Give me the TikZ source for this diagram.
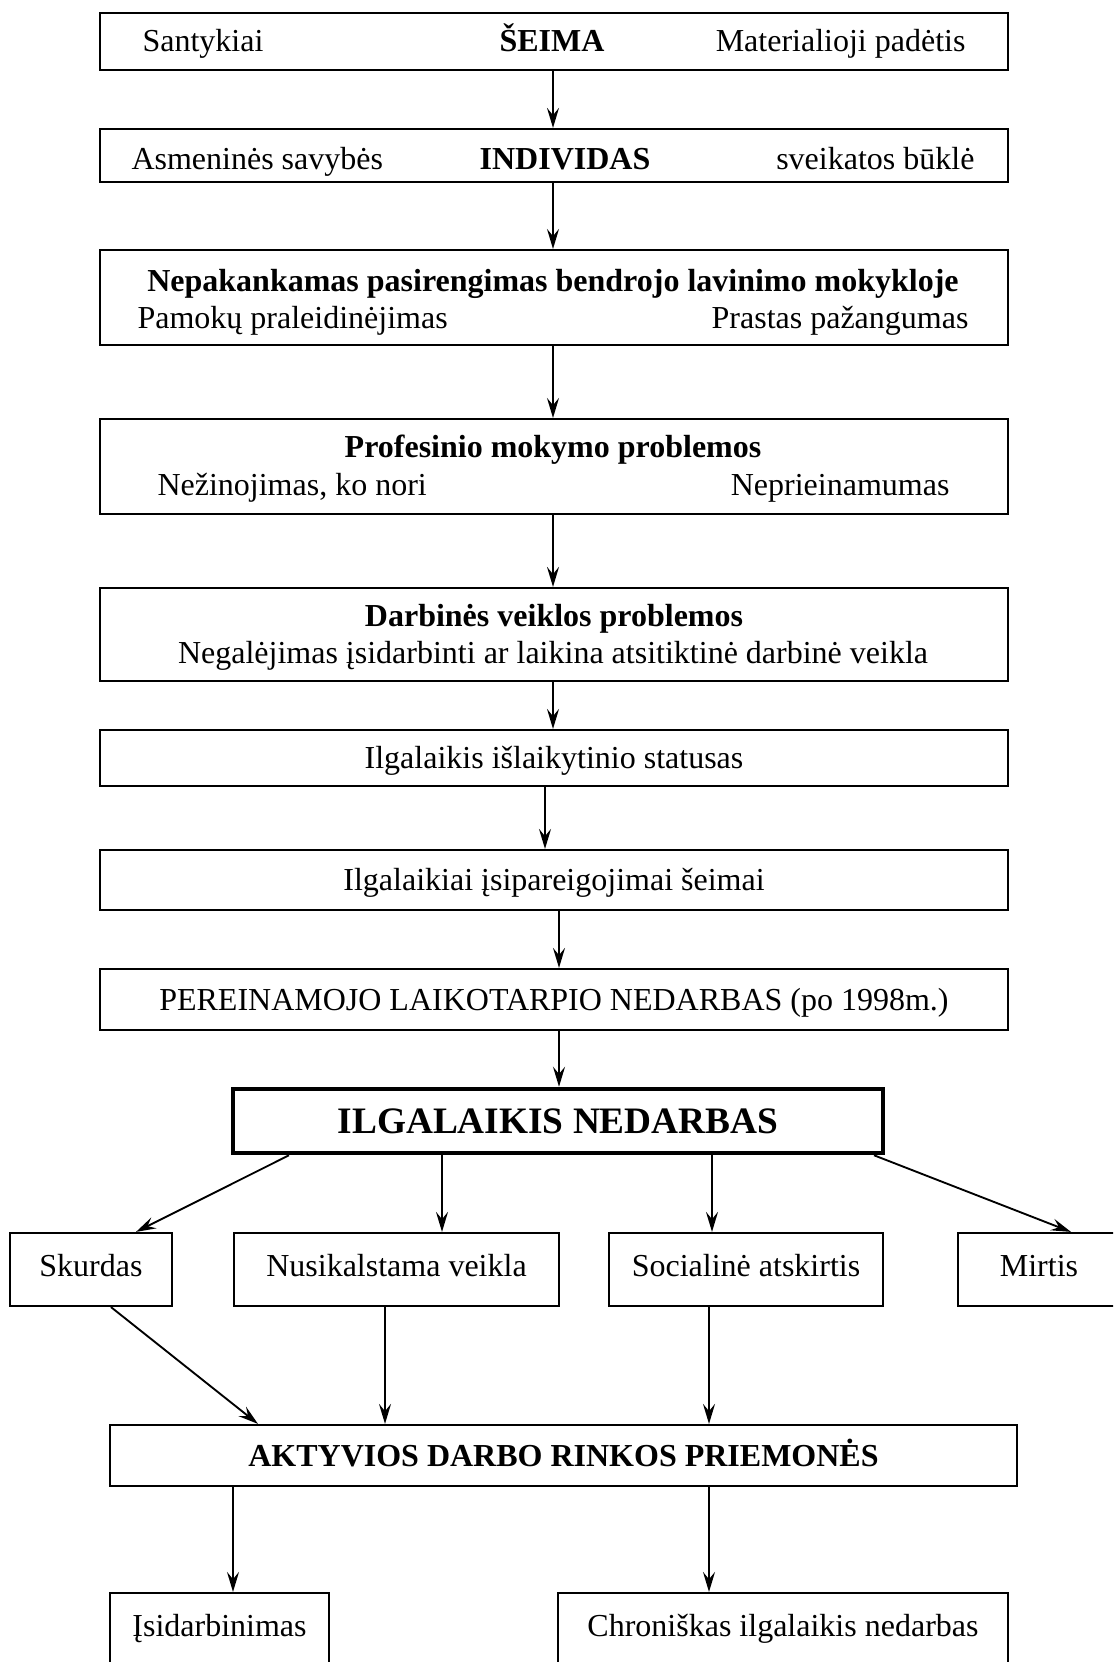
\documentclass[tikz,border=0pt]{standalone}
\usepackage{fontspec}
\setmainfont{Liberation Serif}
\usetikzlibrary{arrows.meta}

\begin{document}
\begin{tikzpicture}[x=0.375pt,y=-0.375pt,
    box/.style={draw,line width=0.8pt,inner sep=0pt,font=\fontsize{12}{14.4}\selectfont,text height=2.15ex,text depth=.4ex},
    leaf/.style={box,text height=1.6ex},
    bigbox/.style={box,line width=1.7pt,text height=2.45ex},
    txt/.style={inner sep=0pt,font=\fontsize{12}{14.4}\selectfont,text height=2.15ex,text depth=.4ex},
    arr/.style={-{Stealth[length=7.5pt,width=4.5pt,inset=2.7pt]},line width=0.7pt}]
    \clip (0,0) rectangle (1113,1662);
    % top chain
    \node [box,minimum width=340.5pt,minimum height=21.4pt] (seima) at (554,41.5) {};
    \node [txt,anchor=west] (santykiai) at (142,41) {Santykiai};
    \node [txt] (seimat) at (552,41) {\bfseries ŠEIMA};
    \node [txt,anchor=east] (materiali) at (966,41) {Materialioji padėtis};
    \node [box,minimum width=340.5pt,minimum height=19.9pt] (individas) at (554,155.5) {};
    \node [txt,anchor=west] (asmenines) at (131,159) {Asmeninės savybės};
    \node [txt] (individast) at (565,159) {\bfseries INDIVIDAS};
    \node [txt,anchor=east] (sveikata) at (975,159) {sveikatos būklė};
    \node [box,minimum width=340.5pt,minimum height=35.6pt] (mokykla) at (554,297.5) {};
    \node [txt] (nepak) at (553,281) {\bfseries Nepakankamas pasirengimas bendrojo lavinimo mokykloje};
    \node [txt,anchor=west] (pamoku) at (137,318) {Pamokų praleidinėjimas};
    \node [txt,anchor=east] (prastas) at (969,318) {Prastas pažangumas};
    \node [box,minimum width=340.5pt,minimum height=35.6pt] (profesinis) at (554,466.5) {};
    \node [txt] (profprob) at (553,447) {\bfseries Profesinio mokymo problemos};
    \node [txt,anchor=west] (nezinojimas) at (157,485) {Nežinojimas, ko nori};
    \node [txt,anchor=east] (neprieinam) at (950,485) {Neprieinamumas};
    \node [box,minimum width=340.5pt,minimum height=34.9pt] (darbine) at (554,634.5) {};
    \node [txt] (darbprob) at (554,616) {\bfseries Darbinės veiklos problemos};
    \node [txt] (negalejimas) at (553,653) {Negalėjimas įsidarbinti ar laikina atsitiktinė darbinė veikla};
    \node [box,minimum width=340.5pt,minimum height=21pt] (islaikytinis) at (554,758) {Ilgalaikis išlaikytinio statusas};
    \node [box,minimum width=340.5pt,minimum height=22.5pt] (isipareig) at (554,880) {Ilgalaikiai įsipareigojimai šeimai};
    \node [box,minimum width=340.5pt,minimum height=22.9pt] (pereinam) at (554,999.5) {PEREINAMOJO LAIKOTARPIO NEDARBAS (po 1998m.)};
    \node [bigbox,minimum width=243.75pt,minimum height=24pt,font=\fontsize{14}{16.8}\selectfont\bfseries] (nedarbas) at (558,1121) {ILGALAIKIS NEDARBAS};
    % consequences
    \node [leaf,minimum width=60.75pt,minimum height=27.4pt] (skurdas) at (91,1269.5) {Skurdas};
    \node [leaf,minimum width=121.9pt,minimum height=27.4pt] (nusikalst) at (396.5,1269.5) {Nusikalstama veikla};
    \node [leaf,minimum width=102.75pt,minimum height=27.4pt] (atskirtis) at (746,1269.5) {Socialinė atskirtis};
    \node [leaf,minimum width=60.75pt,minimum height=27.4pt] (mirtis) at (1039,1269.5) {Mirtis};
    \node [box,minimum width=340.1pt,minimum height=22.9pt] (priemones) at (563.5,1455.5) {\bfseries AKTYVIOS DARBO RINKOS PRIEMONĖS};
    \node [leaf,minimum width=82.1pt,minimum height=27pt] (isidarb) at (219.5,1629) {Įsidarbinimas};
    \node [leaf,minimum width=168.75pt,minimum height=27pt] (chroniskas) at (783,1629) {Chroniškas ilgalaikis nedarbas};
    % arrows
    \draw [arr] (seima.south -| 553,0) -- (individas.north -| 553,0);
    \draw [arr] (individas.south -| 553,0) -- (mokykla.north -| 553,0);
    \draw [arr] (mokykla.south -| 553,0) -- (profesinis.north -| 553,0);
    \draw [arr] (profesinis.south -| 553,0) -- (darbine.north -| 553,0);
    \draw [arr] (darbine.south -| 553,0) -- (islaikytinis.north -| 553,0);
    \draw [arr] (islaikytinis.south -| 545,0) -- (isipareig.north -| 545,0);
    \draw [arr] (isipareig.south -| 559,0) -- (pereinam.north -| 559,0);
    \draw [arr] (pereinam.south -| 559,0) -- (nedarbas.north -| 559,0);
    \draw [arr] (nedarbas.south -| 289,0) -- (skurdas.north -| 136,0);
    \draw [arr] (nedarbas.south -| 442,0) -- (nusikalst.north -| 442,0);
    \draw [arr] (nedarbas.south -| 712,0) -- (atskirtis.north -| 712,0);
    \draw [arr] (nedarbas.south -| 874,0) -- (mirtis.north -| 1071,0);
    \draw [arr] (skurdas.south -| 111,0) -- (priemones.north -| 258,0);
    \draw [arr] (nusikalst.south -| 385,0) -- (priemones.north -| 385,0);
    \draw [arr] (atskirtis.south -| 709,0) -- (priemones.north -| 709,0);
    \draw [arr] (priemones.south -| 233,0) -- (isidarb.north -| 233,0);
    \draw [arr] (priemones.south -| 709,0) -- (chroniskas.north -| 709,0);
\end{tikzpicture}
\end{document}
